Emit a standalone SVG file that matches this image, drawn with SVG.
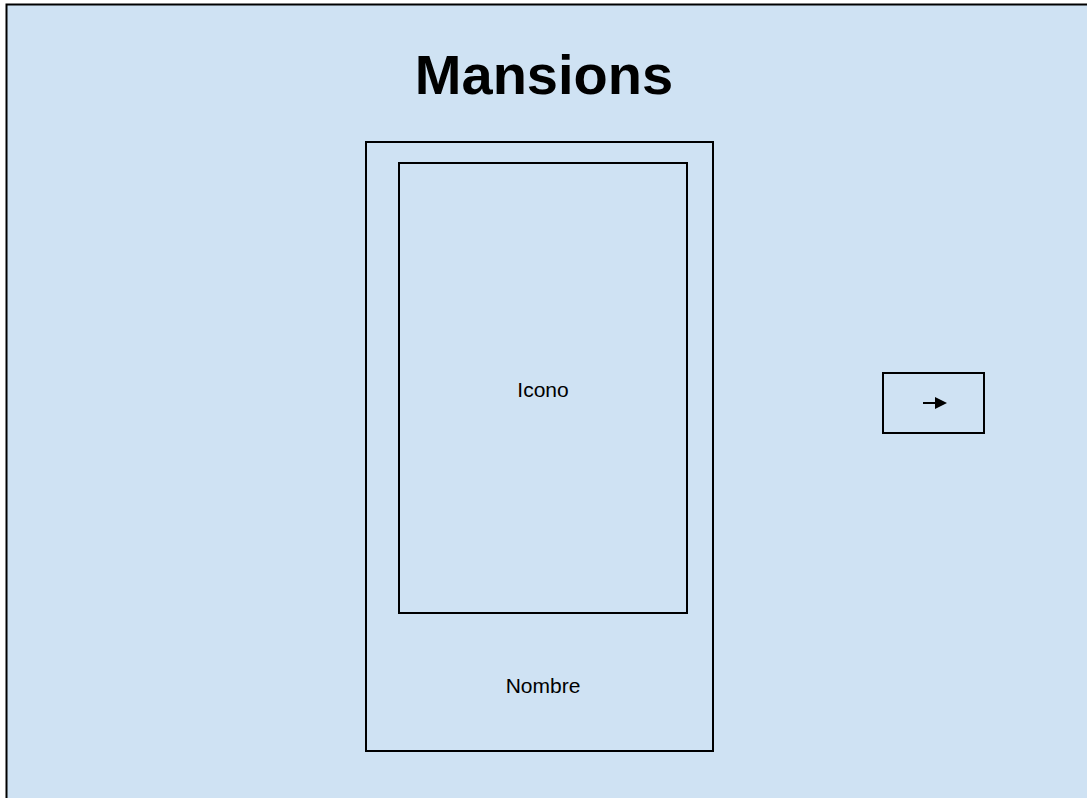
<svg xmlns="http://www.w3.org/2000/svg" width="1087" height="798" viewBox="0 0 1087 798">
<style>
.box{fill:none;stroke:#000;stroke-width:2}
.t{font-family:"Liberation Sans",Arial,sans-serif;fill:#000}
</style>
<defs>
<marker id="ah" markerWidth="6" markerHeight="6" refX="5" refY="3" orient="auto" markerUnits="strokeWidth">
<path d="M0,0 L6,3 L0,6 Z" fill="#000"/>
</marker>
</defs>
<rect x="0" y="0" width="1087" height="798" fill="#fff"/>
<g id="frame">
<rect x="6.5" y="4.5" width="1090" height="800" fill="#cfe2f3" stroke="#000" stroke-width="2"/>
</g>
<g id="title">
<text class="t" x="544" y="94" font-size="56" font-weight="bold" text-anchor="middle">Mansions</text>
</g>
<g id="card">
<rect class="box" x="366" y="142" width="347" height="609"/>
<text class="t" x="543" y="693" font-size="21" text-anchor="middle">Nombre</text>
</g>
<g id="icon">
<rect class="box" x="399" y="163" width="288" height="450"/>
<text class="t" x="543" y="397" font-size="21" text-anchor="middle">Icono</text>
</g>
<g id="next-button">
<rect class="box" x="883" y="373" width="101" height="60"/>
</g>
<g id="connectors">
<line x1="923" y1="403" x2="945" y2="403" stroke="#000" stroke-width="2" marker-end="url(#ah)"/>
</g>
</svg>
